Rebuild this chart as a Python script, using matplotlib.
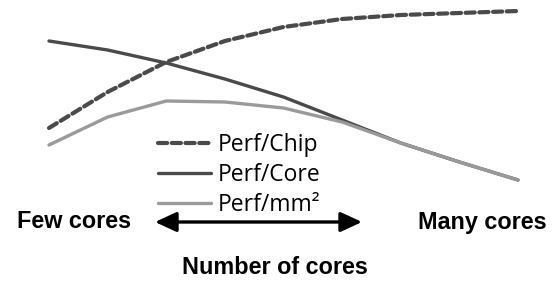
import matplotlib
matplotlib.use("Agg")
import matplotlib.pyplot as plt

# Data (relative performance, arbitrary units) across increasing core count
core_steps = [0, 1, 2, 3, 4, 5, 6, 7, 8]
perf_chip = [62, 98, 128, 149, 163, 171, 175, 177, 179]
perf_core = [149, 140, 127, 111, 93, 70, 47, 28, 10]
perf_mm2 = [45, 73, 89, 88, 82, 68, 47, 28, 10]
series_labels = ["Perf/Chip", "Perf/Core", "Perf/mm²"]

W, H = 559, 289
fig = plt.figure(figsize=(W / 100, H / 100), dpi=100)
ax = fig.add_axes([49 / W, (H - 190) / H, 469 / W, 190 / H])
ax.set_xlim(0, 8)
ax.set_ylim(0, 190)
ax.axis("off")

dark = "#4a4a4a"
grey = "#9a9a9a"
l1, = ax.plot(core_steps, perf_chip, color=dark, lw=3.0, ls=(0, (2.2, 1.1)),
              solid_capstyle="round", dash_capstyle="round", clip_on=False)
l2, = ax.plot(core_steps, perf_core, color=dark, lw=2.4, clip_on=False,
              solid_capstyle="round")
l3, = ax.plot(core_steps, perf_mm2, color=grey, lw=2.4, clip_on=False,
              solid_capstyle="round")

leg = fig.legend([l1, l2, l3], series_labels, loc="upper left",
                 bbox_to_anchor=(158 / W, 1 - 133 / H), frameon=False,
                 prop={"family": "Open Sans", "size": 16.5},
                 handlelength=2.3, handletextpad=0.3, labelspacing=0.26,
                 borderpad=0, borderaxespad=0)

bold = {"family": "Liberation Sans", "weight": "bold", "size": 16.8}
fig.text(17 / W, 1 - 222 / H, "Few cores", ha="left", va="center", **bold)
fig.text(547 / W, 1 - 222 / H, "Many cores", ha="right", va="center", **bold)
fig.text(275 / W, 1 - 268 / H, "Number of cores", ha="center", va="center", **bold)
fig.patches.append(matplotlib.patches.FancyArrowPatch(
    (155 / W, 1 - 222 / H), (362 / W, 1 - 222 / H), transform=fig.transFigure,
    arrowstyle="<|-|>,head_length=13,head_width=6", color="black", lw=2.4,
    mutation_scale=1, shrinkA=0, shrinkB=0))

fig.savefig("out.png", dpi=100)
